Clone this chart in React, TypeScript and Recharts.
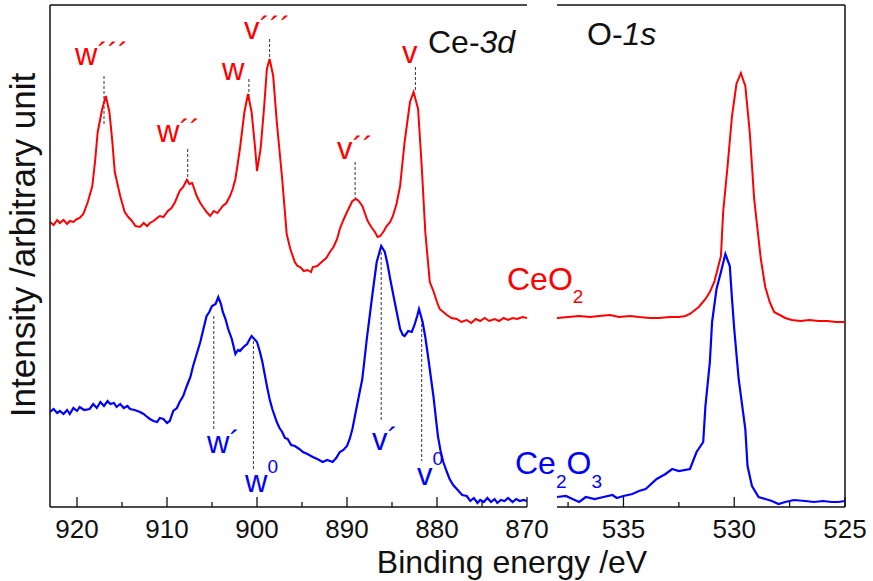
import { LineChart, Line, XAxis, YAxis, ReferenceLine } from "recharts";

const RED = "#ff0000";
const BLUE = "#0000ff";
const INK = "#111111";
const FONT = '"Liberation Sans", Arial, Helvetica, sans-serif';

// axis ticks (binding energy, eV)
const ce3dTicks = [920, 915, 910, 905, 900, 895, 890, 885, 880, 875, 870];
const ce3dMajor = [920, 910, 900, 890, 880, 870];
const o1sTicks = [537.5, 535, 532.5, 530, 527.5, 525];
const o1sMajor = [535, 530, 525];

// [binding energy eV, intensity arb.]
const ceO2Ce3d: [number, number][] = [
  [923.0, 285], [922.6, 282], [922.2, 287], [921.9, 284], [921.5, 287], [921.1, 283],
  [920.8, 286], [920.4, 285], [920.0, 288], [919.7, 289], [919.3, 293], [918.8, 305],
  [918.3, 321], [918.0, 345], [917.7, 375], [917.2, 398], [916.8, 411], [916.4, 395],
  [916.1, 368], [915.8, 335], [915.2, 311], [914.7, 295], [914.3, 290], [913.9, 286],
  [913.5, 281], [913.0, 280], [912.6, 284], [912.2, 281], [911.9, 284], [911.5, 286],
  [911.1, 289], [910.8, 291], [910.4, 290], [909.9, 296], [909.5, 299], [909.1, 305],
  [908.6, 316], [908.2, 320], [907.8, 327], [907.5, 323], [907.2, 324], [906.7, 311],
  [906.3, 304], [906.0, 300], [905.6, 295], [905.2, 291], [904.8, 296], [904.4, 294],
  [903.8, 301], [903.4, 304], [903.0, 311], [902.7, 318], [902.4, 328], [901.9, 358],
  [901.4, 395], [901.0, 413], [900.6, 395], [900.2, 358], [900.0, 336], [899.6, 358],
  [899.2, 401], [898.9, 438], [898.6, 448], [898.2, 431], [897.8, 385], [897.2, 328],
  [896.7, 273], [896.3, 258], [895.8, 245], [895.5, 241], [895.2, 240], [894.8, 236],
  [894.4, 237], [894.0, 235], [893.8, 240], [893.3, 241], [892.7, 246], [892.3, 249],
  [891.9, 255], [891.5, 260], [891.1, 268], [890.8, 278], [890.4, 287], [890.0, 295],
  [889.4, 306], [889.0, 308], [888.7, 306], [888.3, 301], [887.7, 286], [887.3, 280],
  [886.9, 275], [886.6, 270], [886.3, 271], [885.9, 276], [885.6, 281], [885.2, 285],
  [884.9, 291], [884.5, 303], [884.1, 321], [883.6, 365], [883.0, 405], [882.6, 415],
  [882.1, 398], [881.7, 341], [881.3, 275], [880.8, 225], [880.4, 216], [880.0, 205],
  [879.7, 198], [879.3, 195], [878.9, 192], [878.4, 189], [877.8, 188], [877.3, 185],
  [876.7, 187], [876.2, 184], [875.7, 188], [875.2, 186], [874.7, 189], [874.2, 186],
  [873.6, 188], [873.1, 186], [872.6, 189], [872.1, 187], [871.6, 189], [871.1, 188],
  [870.5, 190], [870.0, 189],
];

const ce2O3Ce3d: [number, number][] = [
  [923.0, 95], [922.6, 98], [922.2, 94], [921.9, 96], [921.5, 93], [921.1, 97],
  [920.8, 93], [920.4, 99], [920.0, 96], [919.7, 100], [919.2, 97], [918.6, 98],
  [918.2, 103], [917.8, 99], [917.4, 105], [917.0, 101], [916.6, 106], [916.3, 103],
  [915.9, 104], [915.6, 100], [915.2, 103], [914.8, 99], [914.4, 101], [914.1, 98],
  [913.6, 97], [913.0, 95], [912.6, 93], [912.2, 90], [911.9, 88], [911.5, 86],
  [911.1, 85], [910.8, 89], [910.4, 88], [910.0, 84], [909.7, 86], [909.3, 96],
  [908.9, 99], [908.6, 105], [908.2, 111], [907.8, 121], [907.4, 130], [907.1, 141],
  [906.7, 153], [906.3, 165], [905.9, 180], [905.6, 191], [905.3, 195], [905.0, 201],
  [904.6, 203], [904.3, 210], [904.0, 203], [903.8, 195], [903.5, 188], [903.2, 178],
  [902.8, 168], [902.4, 153], [902.1, 157], [901.9, 156], [901.5, 160], [901.1, 163],
  [900.8, 168], [900.6, 171], [900.3, 168], [900.0, 165], [899.7, 156], [899.4, 145],
  [898.9, 121], [898.6, 108], [898.3, 98], [897.8, 85], [897.5, 79], [897.2, 75],
  [896.9, 69], [896.6, 68], [896.2, 62], [895.8, 61], [895.3, 58], [894.9, 55],
  [894.4, 53], [893.8, 50], [893.3, 48], [892.7, 45], [892.2, 47], [891.6, 45],
  [891.2, 49], [890.8, 55], [890.4, 57], [890.0, 61], [889.7, 68], [889.4, 78],
  [888.9, 101], [888.3, 128], [887.8, 168], [887.2, 211], [886.7, 245], [886.2, 261],
  [885.8, 255], [885.5, 243], [885.2, 228], [884.7, 205], [884.1, 178], [883.8, 172],
  [883.6, 171], [883.2, 176], [882.8, 175], [882.5, 182], [882.2, 191], [882.0, 198],
  [881.6, 185], [881.3, 170], [881.0, 151], [880.7, 131], [880.4, 111], [879.9, 71],
  [879.6, 56], [879.3, 45], [878.9, 35], [878.6, 28], [878.2, 22], [877.8, 18],
  [877.2, 12], [876.7, 11], [876.3, 6], [875.9, 9], [875.5, 4], [875.2, 7],
  [874.8, 5], [874.4, 9], [874.0, 5], [873.6, 8], [873.3, 4], [872.9, 7],
  [872.5, 6], [872.1, 9], [871.6, 5], [871.2, 8], [870.8, 6], [870.4, 7], [870.0, 6],
];

const ceO2O1s: [number, number][] = [
  [538.0, 189], [537.5, 190], [537.0, 191], [536.5, 190], [536.1, 191], [535.6, 192],
  [535.2, 190], [534.7, 191], [534.3, 190], [533.8, 189], [533.4, 189], [532.9, 190],
  [532.5, 190], [532.2, 191], [532.0, 193], [531.6, 200], [531.3, 208], [531.1, 215],
  [530.9, 225], [530.6, 251], [530.5, 295], [530.3, 341], [530.1, 391], [529.9, 423],
  [529.7, 434], [529.5, 421], [529.3, 375], [529.1, 308], [528.8, 248], [528.6, 220],
  [528.4, 205], [528.2, 195], [527.7, 189], [527.4, 187], [527.0, 186], [526.6, 187],
  [526.2, 186], [525.8, 186], [525.4, 185], [525.0, 185],
];

const ce2O3O1s: [number, number][] = [
  [538.0, 10], [537.6, 11], [537.3, 8], [537.0, 5], [536.7, 10], [536.3, 8],
  [535.9, 10], [535.5, 12], [535.3, 9], [535.0, 11], [534.6, 13], [534.3, 16],
  [534.0, 18], [533.5, 28], [533.1, 33], [532.8, 38], [532.5, 36], [532.0, 38],
  [531.7, 55], [531.4, 65], [531.3, 101], [531.1, 145], [531.0, 185], [530.8, 218],
  [530.6, 235], [530.4, 253], [530.2, 241], [530.1, 208], [530.0, 178], [529.8, 128],
  [529.5, 78], [529.4, 41], [529.2, 21], [528.9, 10], [528.6, 8], [528.3, 6],
  [528.0, 3], [527.7, 5], [527.3, 7], [526.8, 6], [526.4, 5], [526.0, 6],
  [525.6, 5], [525.3, 5], [525.0, 6],
];

// peak markers: [energy, from, to]
const ceO2Peaks: [number, number, number][] = [
  [917.0, 431, 383], [907.7, 358, 325], [900.9, 428, 410],
  [898.6, 468, 448], [889.1, 345, 308], [882.4, 440, 415],
];
const ce2O3Peaks: [number, number, number][] = [
  [904.8, 191, 78], [900.4, 166, 36], [886.2, 255, 85], [881.7, 188, 46],
];

const toRows = (pts: [number, number][]) => pts.map(([e, v]) => ({ e, v }));

const Y_DOMAIN: [number, number] = [0, 502];

const makeTick = (majors: number[]) => (props: any) => {
  const { x, y, payload } = props;
  const major = majors.includes(payload.value);
  return (
    <g>
      <line x1={x} x2={x} y1={y} y2={y - (major ? 10 : 5)} stroke={INK} strokeWidth={1.3} />
      {major && (
        <text x={x} y={y + 31} textAnchor="middle" fontSize={26} fontFamily={FONT} fill={INK}>
          {payload.value}
        </text>
      )}
    </g>
  );
};

const markerLines = (peaks: [number, number, number][], key: string) =>
  peaks.map(([e, a, b], i) => (
    <ReferenceLine
      key={key + i}
      segment={[{ x: e, y: a }, { x: e, y: b }]}
      stroke="#333"
      strokeWidth={1}
      strokeDasharray="3 2"
    />
  ));

export default function App() {
  const lbl = { fontFamily: FONT } as const;
  return (
    <div style={{ position: "absolute", left: 0, top: 0, width: 873, height: 581, background: "#fff" }}>
      <div style={{ position: "absolute", left: 0, top: 0 }}>
        <LineChart width={873} height={581} margin={{ top: 5, right: 346, bottom: 0, left: 0 }}>
          <XAxis
            type="number"
            dataKey="e"
            domain={[870, 923]}
            reversed
            allowDataOverflow
            ticks={ce3dTicks}
            interval={0}
            tick={makeTick(ce3dMajor)}
            tickLine={false}
            tickSize={0}
            tickMargin={0}
            height={74}
            axisLine={{ stroke: INK, strokeWidth: 1.5 }}
          />
          <YAxis
            type="number"
            domain={Y_DOMAIN}
            width={50}
            tick={false}
            tickLine={false}
            axisLine={{ stroke: INK, strokeWidth: 1.5 }}
          />
          <ReferenceLine y={502} stroke={INK} strokeWidth={1.5} />
          {markerLines(ceO2Peaks, "r")}
          {markerLines(ce2O3Peaks, "b")}
          <Line data={toRows(ceO2Ce3d)} dataKey="v" stroke={RED} strokeWidth={2} dot={false} isAnimationActive={false} />
          <Line data={toRows(ce2O3Ce3d)} dataKey="v" stroke={BLUE} strokeWidth={2.2} dot={false} isAnimationActive={false} />
        </LineChart>
      </div>
      <div style={{ position: "absolute", left: 0, top: 0 }}>
        <LineChart width={873} height={581} margin={{ top: 5, right: 28, bottom: 0, left: 557 }}>
          <XAxis
            type="number"
            dataKey="e"
            domain={[525, 538]}
            reversed
            allowDataOverflow
            ticks={o1sTicks}
            interval={0}
            tick={makeTick(o1sMajor)}
            tickLine={false}
            tickSize={0}
            tickMargin={0}
            height={74}
            axisLine={{ stroke: INK, strokeWidth: 1.5 }}
          />
          <YAxis type="number" domain={Y_DOMAIN} hide />
          <ReferenceLine y={502} stroke={INK} strokeWidth={1.5} />
          <ReferenceLine x={525} stroke={INK} strokeWidth={1.5} />
          <Line data={toRows(ceO2O1s)} dataKey="v" stroke={RED} strokeWidth={2} dot={false} isAnimationActive={false} />
          <Line data={toRows(ce2O3O1s)} dataKey="v" stroke={BLUE} strokeWidth={2.2} dot={false} isAnimationActive={false} />
        </LineChart>
      </div>
      <svg width={873} height={581} style={{ position: "absolute", left: 0, top: 0, pointerEvents: "none" }}>
        <g {...lbl} fill={INK}>
          <text transform="translate(35,245) rotate(-90)" textAnchor="middle" fontSize={35}>
            Intensity /arbitrary unit
          </text>
          <text x={512} y={573} textAnchor="middle" fontSize={32}>
            Binding energy /eV
          </text>
          <text x={428} y={53} fontSize={32}>
            Ce-<tspan fontStyle="italic">3d</tspan>
          </text>
          <text x={587} y={45} fontSize={32}>
            O-<tspan fontStyle="italic">1s</tspan>
          </text>
        </g>
        <g {...lbl} fill={RED} fontSize={31}>
          <text x={507} y={290} fontSize={32}>
            CeO<tspan fontSize={19} dy={13}>2</tspan>
          </text>
          <text x={75} y={65}>w´´´</text>
          <text x={244} y={39}>v´´´</text>
          <text x={222} y={80}>w</text>
          <text x={157} y={142}>w´´</text>
          <text x={337} y={159}>v´´</text>
          <text x={402} y={63}>v</text>
        </g>
        <g {...lbl} fill={BLUE} fontSize={31}>
          <text x={515} y={474} fontSize={32}>
            Ce<tspan fontSize={19} dy={14}>2</tspan>
            <tspan dy={-14}>O</tspan>
            <tspan fontSize={19} dy={14}>3</tspan>
          </text>
          <text x={207} y={453}>w´</text>
          <text x={245} y={492}>
            w<tspan fontSize={19} dy={-19}>0</tspan>
          </text>
          <text x={372} y={450}>v´</text>
          <text x={417} y={485}>
            v<tspan fontSize={19} dy={-20}>0</tspan>
          </text>
        </g>
      </svg>
    </div>
  );
}
